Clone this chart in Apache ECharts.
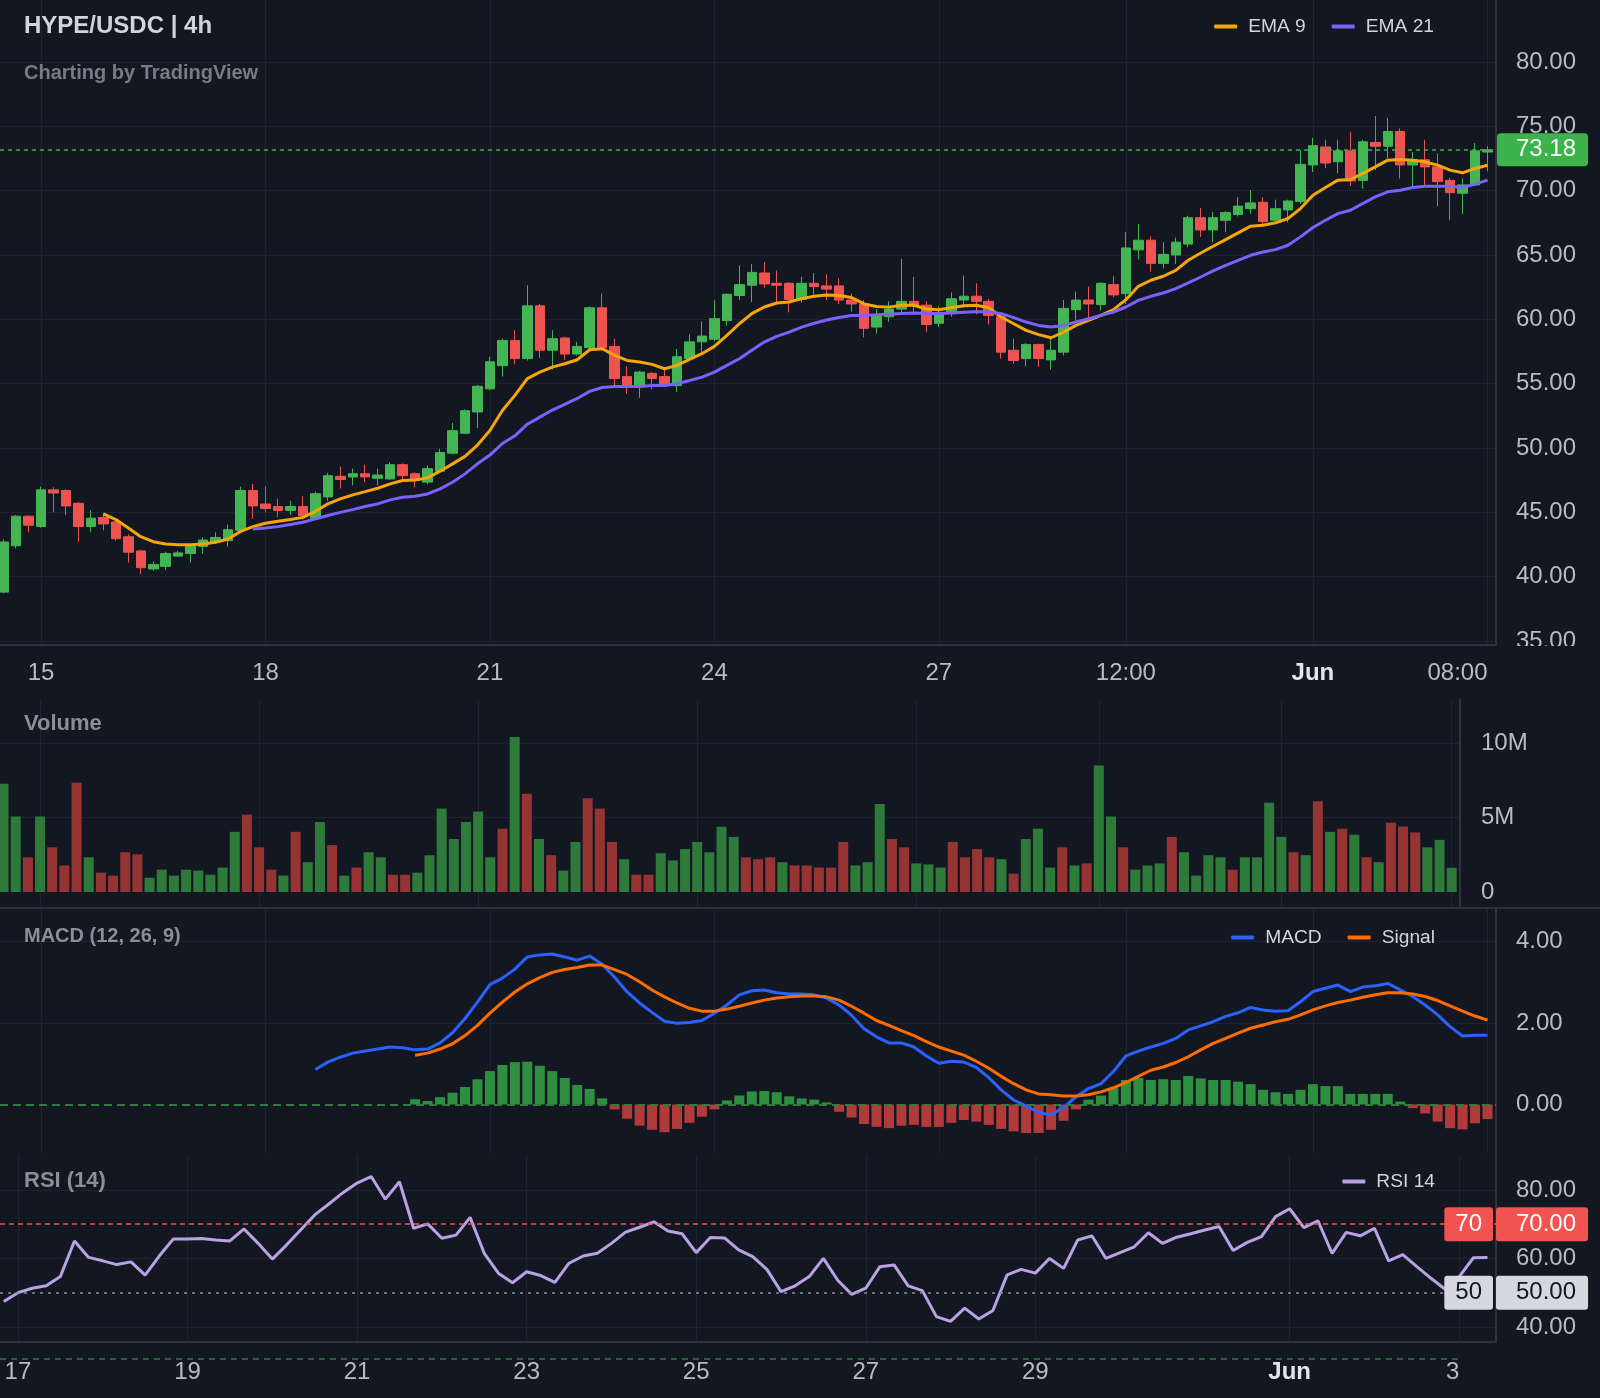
<!DOCTYPE html>
<html>
<head>
<meta charset="utf-8">
<title>HYPE/USDC 4h</title>
<script src="https://cdn.jsdelivr.net/npm/echarts@6/dist/echarts.min.js"></script>
<style>
  html, body { margin: 0; padding: 0; background: #131722; }
  #chart { width: 1600px; height: 1398px; }
</style>
</head>
<body>
<div id="chart"></div>
<script>
// 4h candles: index 0 = May 14 12:00 ... index 119 = Jun 3 08:00
// [open, close, low, high]
const candles = [
  [38.8, 42.7, 38.7, 42.9], [42.4, 44.7, 42.2, 44.8], [44.7, 44.0, 43.45, 44.75], [43.9, 46.75, 43.8, 47.0],
  [46.75, 46.5, 45.0, 46.95], [46.7, 45.5, 44.8, 46.8], [45.7, 43.9, 42.7, 45.8], [43.9, 44.55, 43.45, 45.15],
  [44.6, 44.1, 43.6, 44.95], [44.25, 42.95, 42.8, 44.4], [43.1, 41.9, 41.1, 43.3], [42.0, 40.7, 40.2, 42.1],
  [40.6, 40.95, 40.45, 41.2], [40.8, 41.8, 40.5, 41.95], [41.6, 41.85, 41.55, 42.0], [41.8, 42.4, 41.1, 42.5],
  [42.35, 42.85, 41.8, 43.05], [42.7, 43.05, 42.55, 43.45], [42.8, 43.65, 42.35, 44.05], [43.6, 46.7, 43.5, 47.0],
  [46.7, 45.5, 44.5, 47.2], [45.65, 45.3, 45.0, 47.0], [45.45, 45.15, 44.65, 46.05], [45.15, 45.45, 44.8, 45.9],
  [45.45, 44.75, 44.45, 46.25], [44.5, 46.45, 44.4, 46.6], [46.2, 47.85, 45.9, 48.05], [47.8, 47.55, 46.85, 48.55],
  [47.75, 48.0, 47.1, 48.4], [48.0, 47.75, 47.35, 48.7], [47.65, 47.9, 47.1, 48.4], [47.6, 48.7, 47.55, 48.9],
  [48.7, 47.85, 47.5, 48.8], [48.0, 47.5, 46.95, 48.1], [47.35, 48.4, 47.2, 48.65], [48.2, 49.65, 48.1, 49.95],
  [49.6, 51.35, 49.5, 51.95], [51.15, 52.9, 51.1, 53.0], [52.8, 54.8, 51.55, 54.9], [54.6, 56.7, 54.5, 57.1],
  [56.4, 58.35, 55.55, 58.5], [58.35, 56.95, 56.5, 59.15], [56.95, 61.05, 56.8, 62.65], [61.05, 57.6, 57.0, 61.2],
  [57.6, 58.5, 56.1, 59.15], [58.55, 57.3, 56.85, 58.65], [57.3, 57.9, 57.2, 58.25], [57.8, 60.9, 57.7, 61.0],
  [60.9, 57.8, 57.7, 62.0], [57.9, 55.4, 54.8, 58.5], [55.55, 54.8, 54.2, 56.35], [54.8, 55.9, 53.9, 56.0],
  [55.8, 55.4, 54.55, 55.9], [55.55, 55.0, 54.75, 56.05], [54.85, 57.1, 54.35, 57.7], [56.95, 58.25, 56.9, 58.85],
  [58.25, 58.7, 57.4, 59.85], [58.45, 60.05, 58.3, 61.5], [59.9, 61.95, 59.5, 62.0], [61.85, 62.7, 61.5, 64.2],
  [62.65, 63.65, 61.35, 64.3], [63.6, 62.75, 62.45, 64.45], [62.8, 62.65, 61.35, 63.8], [62.8, 61.55, 60.55, 62.9],
  [61.55, 62.8, 61.3, 63.3], [62.8, 62.55, 61.9, 63.6], [62.6, 62.35, 61.5, 63.5], [62.6, 61.5, 61.2, 63.2],
  [61.5, 61.2, 60.6, 62.0], [61.2, 59.3, 58.6, 61.5], [59.4, 60.3, 58.9, 60.8], [60.2, 60.8, 59.8, 61.4],
  [60.8, 61.4, 60.5, 64.7], [61.4, 61.1, 60.4, 63.3], [61.1, 59.6, 59.0, 61.4], [59.7, 60.5, 59.4, 61.0],
  [60.5, 61.6, 60.2, 62.1], [61.5, 61.8, 60.9, 63.4], [61.8, 61.4, 60.4, 62.8], [61.4, 60.3, 59.6, 61.6],
  [60.2, 57.45, 56.94, 60.4], [57.6, 56.8, 56.55, 58.5], [56.95, 58.05, 56.35, 58.15], [58.05, 56.95, 56.3, 58.1],
  [56.85, 57.6, 56.1, 58.5], [57.45, 60.85, 57.2, 61.5], [60.75, 61.5, 59.9, 62.15], [61.5, 61.2, 60.05, 62.55],
  [61.15, 62.8, 60.7, 62.9], [62.7, 61.9, 61.7, 63.35], [62.0, 65.55, 61.2, 66.8], [65.4, 66.15, 64.65, 67.4],
  [66.15, 64.35, 63.7, 66.45], [64.35, 65.05, 63.95, 66.0], [65.0, 66.0, 64.3, 66.35], [65.85, 67.9, 65.6, 68.05],
  [67.9, 66.95, 66.4, 68.65], [66.95, 67.9, 66.0, 68.35], [67.7, 68.3, 66.8, 68.4], [68.15, 68.8, 68.0, 69.5],
  [68.6, 69.05, 68.2, 70.05], [69.1, 67.6, 67.4, 69.5], [67.7, 68.6, 67.6, 69.3], [68.5, 69.2, 67.55, 69.3],
  [69.15, 72.05, 69.0, 73.15], [72.0, 73.5, 71.45, 74.1], [73.4, 72.15, 71.75, 73.95], [72.25, 73.1, 71.35, 73.95],
  [73.1, 70.75, 70.35, 74.55], [70.8, 73.8, 70.15, 73.95], [73.75, 73.45, 71.6, 75.8], [73.45, 74.6, 72.5, 75.65],
  [74.6, 72.0, 70.95, 74.85], [72.0, 72.4, 70.35, 73.0], [72.4, 71.85, 70.45, 73.95], [71.85, 70.7, 68.8, 72.9],
  [70.8, 69.85, 67.7, 71.0], [69.8, 70.45, 68.2, 70.95], [70.45, 73.1, 70.35, 73.7], [73.0, 73.18, 71.5, 73.45]
];

// volume in millions, one per candle
const volumeM = [
  7.26, 5.07, 2.33, 5.07, 3.0, 1.78, 7.33, 2.33, 1.3, 1.1, 2.67, 2.53, 0.96, 1.5, 1.1, 1.5, 1.44, 1.16, 1.64, 4.04,
  5.2, 3.0, 1.5, 1.1, 4.04, 2.0, 4.7, 3.15, 1.1, 1.64, 2.67, 2.33, 1.16, 1.16, 1.3, 2.47, 5.6, 3.56, 4.7, 5.4,
  2.33, 4.25, 10.4, 6.6, 3.56, 2.47, 1.44, 3.36, 6.3, 5.6, 3.36, 2.2, 1.16, 1.16, 2.6, 2.12, 2.88, 3.36, 2.67, 4.38,
  3.7, 2.33, 2.2, 2.33, 2.0, 1.78, 1.78, 1.64, 1.64, 3.36, 1.78, 2.0, 5.9, 3.56, 3.0, 1.92, 1.85, 1.64, 3.36, 2.33,
  2.88, 2.33, 2.2, 1.23, 3.56, 4.25, 1.64, 3.0, 1.78, 1.92, 8.5, 5.07, 3.0, 1.5, 1.78, 1.92, 3.7, 2.67, 1.1, 2.47,
  2.33, 1.5, 2.33, 2.33, 6.0, 3.7, 2.67, 2.47, 6.1, 4.04, 4.25, 3.84, 2.33, 2.0, 4.66, 4.4, 4.0, 3.0, 3.5, 1.63
];

const ema9Start = 8;
const ema9 = [
  44.88, 44.44, 43.79, 43.11, 42.72, 42.54, 42.49, 42.49, 42.54, 42.67, 42.93, 43.52, 43.89, 44.15, 44.3, 44.44,
  44.61, 45.08, 45.66, 46.05, 46.36, 46.61, 46.87, 47.21, 47.47, 47.52, 47.68, 48.2, 48.77, 49.35, 50.23, 51.36,
  52.92, 54.09, 55.39, 55.9, 56.29, 56.55, 56.86, 57.64, 57.72, 57.2, 56.81, 56.68, 56.5, 56.16, 56.42, 56.89,
  57.33, 57.9, 58.75, 59.66, 60.44, 60.96, 61.27, 61.35, 61.61, 61.8, 61.9, 61.85, 61.7, 61.2, 61.0, 60.95,
  61.1, 61.1, 60.8, 60.75, 60.9, 61.05, 61.1, 60.9, 60.18, 59.66, 59.14, 58.81, 58.57, 59.01, 59.53, 59.92,
  60.31, 60.75, 61.53, 62.57, 63.04, 63.35, 63.81, 64.59, 65.16, 65.68, 66.2, 66.72, 67.24, 67.32, 67.5, 67.84,
  68.61, 69.65, 70.25, 70.82, 70.87, 71.34, 71.85, 72.37, 72.42, 72.37, 72.24, 71.98, 71.6, 71.39, 71.73, 71.98
];

const ema21Start = 20;
const ema21 = [
  43.71, 43.79, 43.89, 44.05, 44.23, 44.49, 44.75, 45.0, 45.21, 45.45, 45.66, 45.97, 46.17, 46.25, 46.43, 46.83,
  47.34, 47.99, 48.77, 49.45, 50.35, 50.95, 51.85, 52.4, 52.95, 53.4, 53.85, 54.4, 54.7, 54.79, 54.79, 54.79,
  54.86, 54.86, 55.0, 55.25, 55.51, 55.9, 56.42, 56.94, 57.59, 58.23, 58.68, 59.01, 59.4, 59.7, 59.95, 60.15,
  60.3, 60.3, 60.35, 60.4, 60.45, 60.5, 60.45, 60.45, 60.5, 60.55, 60.6, 60.6, 60.44, 60.13, 59.79, 59.53,
  59.4, 59.53, 59.79, 60.05, 60.31, 60.57, 60.96, 61.48, 61.79, 62.05, 62.39, 62.83, 63.29, 63.76, 64.2, 64.59,
  64.98, 65.24, 65.42, 65.76, 66.41, 67.14, 67.7, 68.22, 68.48, 69.0, 69.52, 69.91, 70.04, 70.25, 70.35, 70.35,
  70.35, 70.25, 70.51, 70.82
];

const macdStart = 25;
const macd = [
  0.86, 1.04, 1.16, 1.26, 1.31, 1.36, 1.41, 1.39, 1.34, 1.36, 1.51, 1.76, 2.11, 2.51, 2.94, 3.1,
  3.32, 3.62, 3.67, 3.69, 3.62, 3.54, 3.64, 3.44, 3.12, 2.76, 2.49, 2.26, 2.04, 1.99, 2.01, 2.06,
  2.24, 2.44, 2.69, 2.79, 2.81, 2.74, 2.71, 2.71, 2.69, 2.61, 2.44, 2.19, 1.86, 1.66, 1.51, 1.51,
  1.41, 1.19, 1.01, 1.06, 1.04, 0.91, 0.66, 0.36, 0.11, -0.04, -0.19, -0.26, -0.07, 0.19, 0.39, 0.51,
  0.81, 1.19, 1.31, 1.41, 1.5, 1.62, 1.83, 1.93, 2.03, 2.16, 2.25, 2.38, 2.32, 2.29, 2.3, 2.52,
  2.77, 2.85, 2.93, 2.77, 2.88, 2.91, 2.97, 2.81, 2.65, 2.44, 2.2, 1.91, 1.68, 1.7, 1.7
];

const signalStart = 33;
const signal = [
  1.21, 1.26, 1.36, 1.49, 1.69, 1.94, 2.24, 2.51, 2.76, 2.96, 3.11, 3.24, 3.31, 3.36, 3.42, 3.42,
  3.31, 3.19, 3.01, 2.81, 2.64, 2.49, 2.36, 2.29, 2.29, 2.34, 2.41, 2.49, 2.56, 2.61, 2.64, 2.66,
  2.66, 2.64, 2.56, 2.41, 2.24, 2.06, 1.94, 1.81, 1.69, 1.54, 1.41, 1.31, 1.21, 1.06, 0.89, 0.69,
  0.51, 0.36, 0.26, 0.24, 0.21, 0.21, 0.24, 0.31, 0.41, 0.54, 0.69, 0.84, 0.92, 1.03, 1.17, 1.34,
  1.5, 1.62, 1.75, 1.87, 1.95, 2.03, 2.09, 2.2, 2.32, 2.42, 2.5, 2.56, 2.63, 2.69, 2.74, 2.74,
  2.71, 2.65, 2.55, 2.42, 2.29, 2.17, 2.07
];

const histStart = 33;
const hist = [
  0.13, 0.085, 0.18, 0.29, 0.43, 0.62, 0.82, 0.97, 1.04, 1.05, 0.95, 0.82, 0.65, 0.48, 0.38, 0.15,
  -0.12, -0.35, -0.52, -0.62, -0.68, -0.6, -0.45, -0.3, -0.12, 0.1, 0.22, 0.32, 0.33, 0.3, 0.2, 0.15,
  0.12, 0.05, -0.18, -0.32, -0.48, -0.55, -0.58, -0.52, -0.5, -0.55, -0.55, -0.45, -0.38, -0.42, -0.5, -0.6,
  -0.66, -0.7, -0.7, -0.62, -0.4, -0.12, 0.12, 0.22, 0.4, 0.6, 0.65, 0.6, 0.62, 0.6, 0.7, 0.64,
  0.6, 0.6, 0.56, 0.5, 0.36, 0.3, 0.26, 0.36, 0.5, 0.45, 0.45, 0.26, 0.26, 0.26, 0.26, 0.07,
  -0.09, -0.22, -0.42, -0.58, -0.61, -0.46, -0.36
];

const rsiStart = 14;
const rsi = [
  47.4, 50.0, 51.3, 52.0, 54.7, 65.1, 60.3, 59.3, 58.2, 59.0, 55.1, 60.7, 65.7, 65.7, 65.8, 65.4,
  65.1, 68.6, 64.4, 59.8, 63.9, 68.3, 72.7, 75.9, 79.2, 82.0, 83.9, 77.3, 82.4, 68.8, 70.1, 65.9,
  66.8, 72.0, 61.5, 55.7, 52.9, 56.1, 55.0, 53.0, 58.6, 60.7, 61.5, 64.4, 67.7, 69.1, 70.7, 68.0,
  67.2, 61.7, 66.1, 66.0, 62.5, 60.5, 56.8, 50.3, 52.0, 54.7, 60.0, 53.7, 49.5, 51.3, 57.6, 58.1,
  52.0, 50.6, 43.0, 41.6, 45.5, 42.3, 44.8, 55.2, 56.8, 55.7, 60.0, 57.1, 65.4, 66.6, 60.0, 61.7,
  63.4, 67.5, 64.4, 66.2, 67.2, 68.3, 69.3, 62.3, 64.7, 66.4, 72.2, 74.5, 69.0, 71.0, 61.5, 67.6,
  66.6, 68.8, 59.3, 61.1, 57.6, 54.2, 51.0, 54.7, 60.2, 60.3
];

// tick labels
const priceTickIdx = [3, 21, 39, 57, 75, 90, 105, 119];
const priceTickText = ['15', '18', '21', '24', '27', '12:00', 'Jun', '08:00'];
const rsiTickIdx = [15, 27, 39, 51, 63, 75, 87, 105, 117];
const rsiTickText = ['17', '19', '21', '23', '25', '27', '29', 'Jun', '3'];
const priceTicks = [35, 40, 45, 50, 55, 60, 65, 70, 75, 80];
const volumeTicks = [0, 5, 10];
const macdTicks = [0, 2, 4];
const rsiTicks = [40, 60, 80];
const rsiLevels = [70, 50];

const BG = '#131722';
const GRID = '#1f2330';
const SEP = '#2e323d';
const LABEL = '#b8bbc3';
const UP = '#43b553';
const DOWN = '#ef5350';
const FONT = '"Liberation Sans", Arial, sans-serif';

const lastClose = candles[candles.length - 1][1];
const withIndex = (arr, start) => arr.map((v, k) => [start + k, v]);

function timeFormatter(idxs, texts) {
  return function (v) {
    const k = idxs.indexOf(Math.round(v));
    if (k < 0) return '';
    return texts[k] === 'Jun' ? '{b|Jun}' : texts[k];
  };
}

const xRange = { min: -0.29, max: 119.68 };
const rsiRange = { min: 13.73, max: 119.6 };

const chart = echarts.init(document.getElementById('chart'));

const timeAxis = (grid, range, idxs, texts, showLabel, margin) => ({
  type: 'value', gridIndex: grid, min: range.min, max: range.max,
  axisLine: { show: showLabel, onZero: false, lineStyle: { color: SEP, width: 2 } },
  axisTick: { show: false, customValues: idxs },
  splitLine: { show: true, lineStyle: { color: GRID, width: 1 } },
  axisLabel: {
    show: showLabel, customValues: idxs, formatter: timeFormatter(idxs, texts),
    color: LABEL, fontSize: 24, fontFamily: FONT, alignMaxLabel: 'right', margin: margin,
    rich: { b: { fontWeight: 'bold', color: '#e3e5ea', fontSize: 24, fontFamily: FONT } }
  }
});

const valueAxis = (grid, min, max, ticks, labels, fmt, margin) => ({
  type: 'value', gridIndex: grid, position: 'right', min: min, max: max,
  axisLine: { show: true, onZero: false, lineStyle: { color: SEP, width: 2 } },
  axisTick: { show: false, customValues: ticks },
  splitLine: { show: true, lineStyle: { color: GRID, width: 1 } },
  axisLabel: { customValues: labels, formatter: fmt, color: LABEL, fontSize: 24, fontFamily: FONT, margin: margin }
});

const tagAxis = (grid, min, max, values, extra) => ({
  type: 'value', gridIndex: grid, position: 'right', min: min, max: max, z: 10,
  axisLine: { show: false, onZero: false }, axisTick: { show: false }, splitLine: { show: false },
  axisLabel: Object.assign({ customValues: values, fontFamily: FONT, fontSize: 24 }, extra)
});

const tagRich = {
  r: { backgroundColor: '#f05350', color: '#ffffff', fontSize: 24, fontFamily: FONT, borderRadius: 3 },
  g: { backgroundColor: '#d6d8de', color: '#131722', fontSize: 24, fontFamily: FONT, borderRadius: 3 }
};
const richWithPad = (pad) => ({
  r: Object.assign({}, tagRich.r, { padding: pad }),
  g: Object.assign({}, tagRich.g, { padding: pad })
});

const titleStyle = (size) => ({ color: '#8b8e98', fontSize: size, fontWeight: 'bold', fontFamily: FONT });

chart.setOption({
  backgroundColor: BG,
  animation: false,
  textStyle: { fontFamily: FONT },
  title: [
    { text: 'HYPE/USDC | 4h', left: 24, top: 14, padding: 0,
      textStyle: { color: '#d1d4dc', fontSize: 24, fontWeight: 'bold', fontFamily: FONT } },
    { text: 'Charting by TradingView', left: 24, top: 63, padding: 0,
      textStyle: { color: '#787b86', fontSize: 20, fontWeight: 'bold', fontFamily: FONT } },
    { text: 'Volume', left: 24, top: 713, padding: 0, textStyle: titleStyle(22) },
    { text: 'MACD (12, 26, 9)', left: 24, top: 926, padding: 0, textStyle: titleStyle(20) },
    { text: 'RSI (14)', left: 24, top: 1170, padding: 0, textStyle: titleStyle(22) }
  ],
  legend: [
    { data: ['EMA 9', 'EMA 21'], right: 166, top: 17 },
    { data: ['MACD', 'Signal'], right: 165, top: 928 },
    { data: ['RSI 14'], right: 165, top: 1172 }
  ].map(l => Object.assign({
    icon: 'roundRect', itemWidth: 23, itemHeight: 4, itemGap: 26, padding: 0, selectedMode: false,
    textStyle: { color: '#d1d4dc', fontSize: 19.2, fontFamily: FONT, padding: [0, 0, 0, 6] }
  }, l)),
  grid: [
    { left: 0, top: 0, width: 1496, height: 645 },
    { left: 0, top: 700, width: 1460, height: 208 },
    { left: 0, top: 908, width: 1496, height: 245 },
    { left: 0, top: 1155, width: 1496, height: 187 }
  ],
  xAxis: [
    timeAxis(0, xRange, priceTickIdx, priceTickText, true, 16),
    timeAxis(1, xRange, priceTickIdx, priceTickText, false, 16),
    timeAxis(2, xRange, priceTickIdx, priceTickText, false, 16),
    timeAxis(3, rsiRange, rsiTickIdx, rsiTickText, true, 18)
  ],
  yAxis: [
    valueAxis(0, 34.69, 84.82, priceTicks, priceTicks, v => v.toFixed(2), 20),
    tagAxis(0, 34.69, 84.82, [lastClose], {
      formatter: v => v.toFixed(2), color: '#ffffff', backgroundColor: '#3cb44b',
      padding: [5, 12, 4, 19], borderRadius: 4, margin: 1
    }),
    valueAxis(1, -1.074, 12.89, [5, 10], volumeTicks, v => (v === 0 ? '0' : v + 'M'), 21),
    valueAxis(2, -1.19, 4.82, [2, 4], macdTicks, v => v.toFixed(2), 20),
    valueAxis(3, 35.6, 90.2, rsiTicks, rsiTicks, v => v.toFixed(2), 20),
    tagAxis(3, 35.6, 90.2, rsiLevels, {
      formatter: v => '{' + (v >= 70 ? 'r' : 'g') + '|' + v.toFixed(2) + '}',
      margin: 0, rich: richWithPad([5, 12, 5, 20])
    }),
    tagAxis(3, 35.6, 90.2, rsiLevels, {
      inside: true, margin: 3,
      formatter: v => '{' + (v >= 70 ? 'r' : 'g') + '|' + v.toFixed(0) + '}',
      rich: richWithPad([5, 11, 5, 11])
    })
  ],
  series: [
    {
      type: 'candlestick', name: 'HYPE', xAxisIndex: 0, yAxisIndex: 0,
      data: candles.map((c, i) => [i, c[0], c[1], c[2], c[3]]),
      encode: { x: 0, y: [1, 2, 3, 4] },
      barWidth: 10,
      itemStyle: { color: UP, color0: DOWN, borderColor: UP, borderColor0: DOWN, borderWidth: 1 },
      markLine: {
        silent: true, symbol: 'none', label: { show: false },
        lineStyle: { color: '#3cb44b', type: [4, 4], width: 1.5 },
        data: [{ yAxis: lastClose }]
      }
    },
    {
      type: 'line', name: 'EMA 9', xAxisIndex: 0, yAxisIndex: 0, color: '#f6a609',
      data: withIndex(ema9, ema9Start), showSymbol: false, symbol: 'none',
      lineStyle: { color: '#f6a609', width: 3 }
    },
    {
      type: 'line', name: 'EMA 21', xAxisIndex: 0, yAxisIndex: 0, color: '#7b61ff',
      data: withIndex(ema21, ema21Start), showSymbol: false, symbol: 'none',
      lineStyle: { color: '#7b61ff', width: 3 }
    },
    {
      type: 'bar', name: 'Volume', xAxisIndex: 1, yAxisIndex: 2, barWidth: 10,
      data: volumeM.map((v, i) => ({
        value: [i, v],
        itemStyle: { color: candles[i][1] >= candles[i][0] ? '#2e7a3a' : '#963434' }
      }))
    },
    {
      type: 'bar', name: 'Histogram', xAxisIndex: 2, yAxisIndex: 3, barWidth: 10,
      data: hist.map((v, k) => ({
        value: [histStart + k, v],
        itemStyle: { color: v >= 0 ? '#2f8f40' : '#b23a3a' }
      })),
      markLine: {
        silent: true, symbol: 'none', label: { show: false },
        lineStyle: { color: '#2f7d3c', type: [8, 5], width: 2 },
        data: [{ yAxis: 0 }]
      }
    },
    {
      type: 'line', name: 'MACD', xAxisIndex: 2, yAxisIndex: 3, color: '#2962ff',
      data: withIndex(macd, macdStart), showSymbol: false, symbol: 'none',
      lineStyle: { color: '#2962ff', width: 3 }
    },
    {
      type: 'line', name: 'Signal', xAxisIndex: 2, yAxisIndex: 3, color: '#ff6d00',
      data: withIndex(signal, signalStart), showSymbol: false, symbol: 'none',
      lineStyle: { color: '#ff6d00', width: 3 }
    },
    {
      type: 'line', name: 'RSI 14', xAxisIndex: 3, yAxisIndex: 4, color: '#b9a2e3',
      data: withIndex(rsi, rsiStart), showSymbol: false, symbol: 'none',
      lineStyle: { color: '#b9a2e3', width: 3 },
      markLine: {
        silent: true, symbol: 'none', label: { show: false },
        data: [
          { yAxis: rsiLevels[0], lineStyle: { color: '#f05350', type: [5, 4], width: 1.5 } },
          { yAxis: rsiLevels[1], lineStyle: { color: '#8a8d96', type: [3, 5], width: 1.5 } }
        ]
      }
    }
  ],
  graphic: [
    { type: 'rect', z: 100, shape: { x: 1498, y: 646, width: 102, height: 12 }, style: { fill: BG } },
    { type: 'line', z: 100, shape: { x1: 0, y1: 908, x2: 1600, y2: 908 }, style: { stroke: SEP, lineWidth: 2 } },
    { type: 'line', z: 100, shape: { x1: 0, y1: 1359, x2: 1463, y2: 1359 },
      style: { stroke: '#2f7d3c', lineWidth: 1.5, lineDash: [6, 5] } }
  ]
});
</script>
</body>
</html>
